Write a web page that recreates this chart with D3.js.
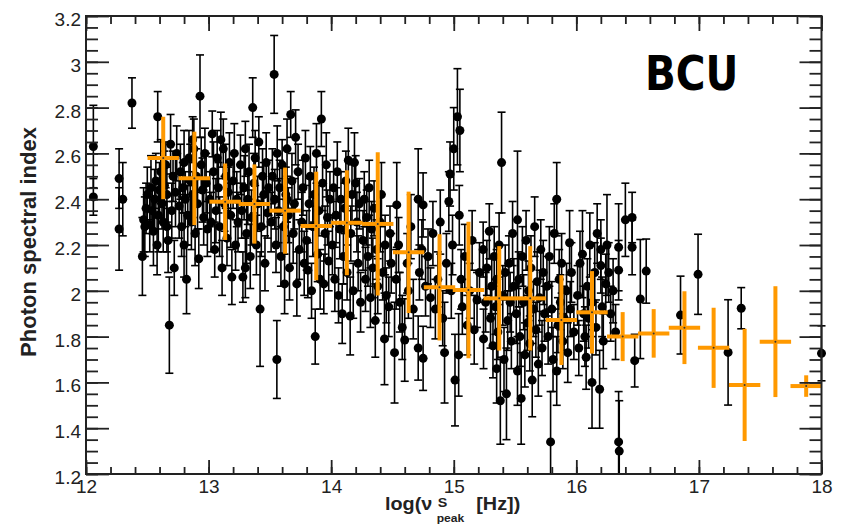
<!DOCTYPE html>
<html>
<head>
<meta charset="utf-8">
<script src="https://cdn.jsdelivr.net/npm/d3@7"></script>
<style>
body{margin:0;background:#fff;}
</style>
</head>
<body>
<script>
//DATA: log(nu_peak), photon index, error
var bcuPoints = [
[12.06,2.63,0.18],[12.06,2.41,0.08],[12.27,2.49,0.13],[12.30,2.40,0.16],[12.27,2.27,0.18],[12.375,2.82,0.11],[12.46,2.15,0.17],[12.48,2.28,0.13],[12.49,2.36,0.11],[12.50,2.42,0.12],[12.47,2.31,0.14],
[12.52,2.29,0.12],[12.53,2.45,0.14],[12.54,2.35,0.10],[12.55,2.26,0.15],[12.56,2.40,0.13],[12.57,2.48,0.12],[12.585,2.76,0.11],[12.59,2.33,0.16],[12.60,2.44,0.12],[12.61,2.52,0.14],[12.62,2.38,0.11],[12.63,2.30,0.13],[12.64,2.46,0.15],[12.65,2.55,0.10],[12.66,2.42,0.12],[12.67,2.22,0.14],[12.69,2.64,0.13],[12.68,1.85,0.21],[12.70,2.35,0.12],[12.71,2.50,0.11],[12.72,2.10,0.12],[12.73,2.43,0.15],[12.74,2.60,0.12],[12.58,2.20,0.13],[12.66,2.28,0.11],[12.62,2.48,0.10],
[12.76,2.37,0.14],[12.77,2.52,0.12],[12.78,2.28,0.13],[12.79,2.45,0.11],[12.80,2.56,0.14],[12.81,2.40,0.12],[12.82,2.05,0.15],[12.83,2.33,0.13],[12.84,2.58,0.12],[12.85,2.48,0.16],[12.86,2.30,0.12],[12.87,2.42,0.10],[12.88,2.62,0.13],[12.89,2.25,0.14],[12.90,2.50,0.12],[12.92,2.14,0.13],[12.93,2.85,0.18],[12.91,2.38,0.11],[12.94,2.55,0.12],[12.95,2.44,0.14],[12.96,2.32,0.12],[12.97,2.60,0.11],[12.98,2.47,0.13],[12.99,2.27,0.12],[12.80,2.20,0.14],[12.87,2.66,0.10],
[13.01,2.40,0.12],[13.03,2.685,0.10],[13.04,2.52,0.13],[13.05,2.18,0.12],[13.06,2.35,0.14],[13.07,2.58,0.12],[13.08,2.45,0.11],[13.09,2.28,0.13],[13.11,2.10,0.12],[13.12,2.62,0.13],[13.13,2.38,0.12],[13.14,2.50,0.14],[13.15,2.23,0.12],[13.16,2.43,0.11],[13.17,2.56,0.13],[13.19,2.06,0.12],[13.18,2.33,0.14],[13.20,2.48,0.12],[13.21,2.60,0.13],[13.22,2.20,0.11],[13.23,2.40,0.12],[13.24,2.30,0.13],[13.10,2.66,0.12],[13.02,2.30,0.13],
[13.26,2.55,0.13],[13.27,2.35,0.12],[13.28,2.06,0.11],[13.29,2.45,0.14],[13.30,2.62,0.12],[13.31,2.25,0.13],[13.32,2.40,0.11],[13.33,2.52,0.12],[13.34,2.15,0.14],[13.36,2.80,0.13],[13.35,2.32,0.12],[13.37,2.47,0.13],[13.38,2.58,0.12],[13.39,2.20,0.13],[13.40,2.38,0.12],[13.41,2.65,0.11],[13.42,1.92,0.25],[13.43,2.28,0.13],[13.44,2.50,0.12],[13.45,2.42,0.14],[13.46,2.12,0.12],[13.47,2.56,0.13],[13.48,2.34,0.11],[13.49,2.45,0.12],[13.30,2.10,0.13],
[13.51,2.30,0.13],[13.52,2.50,0.12],[13.535,2.945,0.17],[13.54,2.40,0.13],[13.55,2.20,0.12],[13.557,1.70,0.17],[13.56,2.60,0.12],[13.57,2.35,0.14],[13.58,2.45,0.12],[13.59,2.15,0.13],[13.60,2.55,0.11],[13.61,2.28,0.12],[13.62,2.03,0.13],[13.63,2.42,0.12],[13.64,2.62,0.13],[13.65,2.33,0.12],[13.66,2.10,0.14],[13.67,2.77,0.10],[13.68,2.48,0.12],[13.69,2.25,0.13],[13.70,2.38,0.11],[13.71,2.67,0.12],[13.72,2.03,0.14],[13.73,2.52,0.12],[13.74,2.18,0.13],[13.64,2.40,0.10],
[13.76,2.30,0.13],[13.77,2.45,0.12],[13.78,2.12,0.14],[13.79,2.58,0.12],[13.80,2.22,0.13],[13.81,2.09,0.12],[13.82,2.38,0.11],[13.83,2.50,0.13],[13.84,2.00,0.12],[13.85,2.28,0.13],[13.86,2.42,0.12],[13.87,1.80,0.12],[13.88,2.60,0.13],[13.89,2.16,0.12],[13.90,2.35,0.11],[13.91,2.05,0.13],[13.92,2.75,0.12],[13.93,2.47,0.12],[13.94,2.03,0.13],[13.95,2.25,0.12],[13.96,2.55,0.14],[13.97,2.32,0.12],[13.98,2.13,0.13],[13.99,2.40,0.12],
[14.01,2.20,0.13],[14.02,2.45,0.12],[14.03,2.05,0.14],[14.04,2.33,0.12],[14.05,2.52,0.13],[14.06,1.98,0.12],[14.07,2.27,0.13],[14.08,2.40,0.12],[14.09,1.90,0.13],[14.10,2.15,0.12],[14.11,2.36,0.11],[14.12,2.48,0.13],[14.13,2.08,0.12],[14.14,2.57,0.14],[14.155,1.89,0.17],[14.16,2.25,0.12],[14.17,2.42,0.13],[14.18,2.00,0.12],[14.19,2.56,0.13],[14.20,2.47,0.12],[14.21,2.30,0.13],[14.22,2.12,0.12],[14.23,2.38,0.11],[14.24,1.95,0.13],
[14.26,2.22,0.13],[14.27,2.40,0.12],[14.28,2.05,0.14],[14.29,2.32,0.12],[14.30,2.15,0.13],[14.31,2.45,0.12],[14.32,1.97,0.13],[14.33,2.27,0.12],[14.34,2.10,0.13],[14.36,1.87,0.16],[14.35,2.36,0.12],[14.37,2.18,0.13],[14.38,2.02,0.12],[14.40,2.30,0.13],[14.41,2.42,0.14],[14.42,2.08,0.12],[14.435,1.79,0.20],[14.44,2.20,0.13],[14.45,1.98,0.12],[14.47,1.93,0.13],[14.48,2.25,0.12],[14.49,2.12,0.13],
[14.517,1.73,0.22],[14.53,2.05,0.13],[14.535,2.375,0.185],[14.55,2.20,0.12],[14.56,1.95,0.13],[14.58,1.84,0.14],[14.60,1.785,0.18],[14.62,2.12,0.13],[14.63,2.00,0.12],[14.65,2.28,0.14],[14.67,1.92,0.13],[14.71,1.75,0.14],[14.71,2.40,0.22],[14.72,2.08,0.12],[14.74,2.18,0.13],
[14.75,2.375,0.14],[14.75,1.705,0.14],[14.77,2.02,0.13],[14.79,2.15,0.12],[14.81,1.97,0.13],[14.83,2.25,0.14],[14.85,1.92,0.13],[14.87,2.05,0.12],[14.89,2.30,0.14],[14.91,1.88,0.12],[14.925,1.73,0.22],[14.94,2.12,0.13],[14.96,2.39,0.13],[14.97,2.51,0.14],[14.98,2.00,0.12],[14.99,2.20,0.13],
[15.00,2.62,0.18],[15.01,1.61,0.20],[15.03,2.76,0.21],[15.04,1.72,0.18],[15.045,2.33,0.13],[15.05,2.70,0.18],[15.06,2.05,0.13],[15.07,1.93,0.12],[15.09,2.15,0.14],[15.11,1.85,0.13],[15.13,2.00,0.12],[15.15,2.22,0.13],[15.167,1.83,0.15],[15.19,1.96,0.12],[15.21,2.08,0.13],[15.243,1.79,0.13],[15.24,2.18,0.12],
[15.26,1.95,0.13],[15.27,2.10,0.12],[15.29,2.26,0.12],[15.30,1.88,0.13],[15.31,2.02,0.12],[15.32,1.76,0.14],[15.33,2.15,0.13],[15.34,1.93,0.12],[15.35,2.05,0.13],[15.36,1.82,0.12],[15.37,2.20,0.14],[15.38,1.52,0.19],[15.39,2.56,0.22],[15.40,1.98,0.13],[15.41,1.70,0.14],[15.42,2.08,0.12],[15.43,1.55,0.20],[15.44,1.87,0.13],[15.45,2.12,0.12],[15.46,1.95,0.13],[15.47,1.78,0.12],[15.48,2.25,0.14],[15.49,2.02,0.12],[15.35,1.66,0.15],
[15.51,1.90,0.13],[15.52,2.31,0.30],[15.52,1.65,0.15],[15.53,2.05,0.12],[15.54,1.80,0.13],[15.55,1.53,0.20],[15.56,2.15,0.13],[15.57,1.95,0.12],[15.58,1.72,0.14],[15.59,2.22,0.13],[15.60,1.86,0.12],[15.61,2.00,0.13],[15.62,1.77,0.12],[15.64,1.61,0.16],[15.63,2.10,0.14],[15.65,1.92,0.12],[15.66,2.28,0.13],[15.67,1.83,0.12],[15.68,2.04,0.13],[15.69,1.68,0.14],[15.70,1.97,0.12],[15.71,2.18,0.13],[15.72,1.75,0.12],[15.73,2.08,0.14],[15.74,1.90,0.12],
[15.76,2.02,0.13],[15.77,1.80,0.12],[15.79,1.34,0.22],[15.78,2.15,0.13],[15.80,1.92,0.12],[15.81,1.70,0.14],[15.82,2.25,0.13],[15.84,1.65,0.15],[15.84,2.40,0.16],[15.85,1.85,0.12],[15.86,2.05,0.13],[15.87,1.95,0.12],[15.88,2.12,0.13],[15.89,1.78,0.12],[15.90,1.88,0.14],[15.92,2.00,0.12],[15.93,1.73,0.13],[15.945,2.21,0.14],[15.95,1.92,0.12],[15.96,2.08,0.13],[15.98,1.82,0.12],
[16.01,1.98,0.13],[16.02,1.75,0.12],[16.03,2.12,0.14],[16.05,2.16,0.19],[16.06,1.90,0.12],[16.07,1.80,0.13],[16.08,1.71,0.14],[16.09,2.02,0.12],[16.10,1.88,0.13],[16.11,2.20,0.14],[16.128,1.60,0.20],[16.13,1.95,0.12],[16.15,2.08,0.13],[16.16,1.84,0.12],[16.17,2.25,0.13],[16.19,1.57,0.17],[16.20,2.18,0.13],[16.20,2.11,0.12],[16.21,1.93,0.13],[16.22,1.78,0.12],[16.24,2.03,0.13],[16.25,2.20,0.22],
[16.264,2.08,0.13],[16.28,1.90,0.12],[16.30,2.00,0.14],[16.32,1.82,0.12],[16.345,2.19,0.19],[16.345,2.09,0.13],[16.345,1.34,0.22],[16.35,1.30,0.22],[16.40,2.31,0.16],[16.455,2.32,0.11],[16.455,2.19,0.12],[16.476,1.695,0.115],
[16.522,1.964,0.26],[16.57,2.086,0.14],[16.85,1.894,0.17],[16.993,2.072,0.175],[17.238,1.731,0.23],[17.345,1.924,0.09],[18.0,1.727,0.12]
];

//BINNED AVERAGES (orange)
var binCenter = [12.63,12.884,13.135,13.374,13.624,13.878,14.128,14.38,14.632,14.884,15.12,15.371,15.624,15.878,16.128,16.378,16.631,16.882,17.12,17.373,17.624,17.875];
var binIndex = [2.58,2.491,2.389,2.379,2.35,2.283,2.297,2.292,2.168,2.015,2.003,1.967,1.967,1.872,1.906,1.80,1.814,1.839,1.751,1.589,1.778,1.584];
var binYErr = [0.18,0.204,0.167,0.173,0.188,0.237,0.229,0.313,0.265,0.232,0.298,0.228,0.228,0.196,0.18,0.107,0.106,0.159,0.175,0.245,0.242,0.047];
var binXErr = [0.128,0.128,0.128,0.128,0.128,0.128,0.128,0.128,0.128,0.128,0.128,0.128,0.128,0.128,0.128,0.128,0.128,0.128,0.128,0.128,0.128,0.128];

var xTicks = [12,13,14,15,16,17,18];
var yTicks = [1.2,1.4,1.6,1.8,2,2.2,2.4,2.6,2.8,3,3.2];

//SVG STUFF:
var width = 842, height = 524;
var mLeft = 86, mRight = 821.5, mTop = 16, mBottom = 474;
var svg = d3.select("body").append("svg").attr("width", width).attr("height", height)
   .style("font-family","'Liberation Sans', Arial, sans-serif");

var x = d3.scaleLinear().domain([12,18]).range([mLeft,mRight]);
var y = d3.scaleLinear().domain([1.2,3.2]).range([mBottom,mTop]);

svg.append("defs").append("clipPath").attr("id","plotclip")
   .append("rect").attr("x",0).attr("y",mTop).attr("width",width).attr("height",mBottom-mTop);

//BLACK POINTS WITH ERROR BARS
var pts = svg.append("g").attr("clip-path","url(#plotclip)");
pts.selectAll("line.err").data(bcuPoints).enter().append("line")
   .attr("class","err")
   .attr("x1",d => x(d[0])).attr("x2",d => x(d[0]))
   .attr("y1",d => y(d[1]+d[2])).attr("y2",d => y(d[1]-d[2]))
   .attr("stroke","#000").attr("stroke-width",1.6);
pts.selectAll("line.capt").data(bcuPoints).enter().append("line")
   .attr("class","capt")
   .attr("x1",d => x(d[0])-4).attr("x2",d => x(d[0])+4)
   .attr("y1",d => y(d[1]+d[2])).attr("y2",d => y(d[1]+d[2]))
   .attr("stroke","#000").attr("stroke-width",1.6);
pts.selectAll("line.capb").data(bcuPoints).enter().append("line")
   .attr("class","capb")
   .attr("x1",d => x(d[0])-4).attr("x2",d => x(d[0])+4)
   .attr("y1",d => y(d[1]-d[2])).attr("y2",d => y(d[1]-d[2]))
   .attr("stroke","#000").attr("stroke-width",1.6);
pts.selectAll("circle.pt").data(bcuPoints).enter().append("circle")
   .attr("class","pt")
   .attr("cx",d => x(d[0])).attr("cy",d => y(d[1]))
   .attr("r",4.5).attr("fill","#000");

//ORANGE CROSSES
var bins = binCenter.map((c,i) => ({x:c, y:binIndex[i], ey:binYErr[i], ex:binXErr[i]}));
var orange = "#ff9900";
var og = svg.append("g");
og.selectAll("line.ov").data(bins).enter().append("line")
   .attr("x1",d => x(d.x)).attr("x2",d => x(d.x))
   .attr("y1",d => y(d.y+d.ey)).attr("y2",d => y(d.y-d.ey))
   .attr("stroke",orange).attr("stroke-width",4);
og.selectAll("line.oh").data(bins).enter().append("line")
   .attr("x1",d => x(d.x-d.ex)).attr("x2",d => x(d.x+d.ex))
   .attr("y1",d => y(d.y)).attr("y2",d => y(d.y))
   .attr("stroke",orange).attr("stroke-width",4);
og.selectAll("circle").data(bins).enter().append("circle")
   .attr("cx",d => x(d.x)).attr("cy",d => y(d.y)).attr("r",1).attr("fill","#333");

//AXES
var minorX = d3.range(12,18.001,0.2);
var minorY = d3.range(1.2,3.2001,0.05);
var tickCol = "#222";
function styleAxis(g){
   g.select(".domain").remove();
   g.selectAll(".tick line").attr("stroke",tickCol).attr("stroke-width",1.8);
}
svg.append("g").attr("transform","translate("+mLeft+",0)")
   .call(d3.axisLeft(y).tickValues(minorY).tickSize(-12).tickFormat("")).call(styleAxis);
svg.append("g").attr("transform","translate("+mLeft+",0)")
   .call(d3.axisLeft(y).tickValues(yTicks).tickSize(-23).tickPadding(5).tickFormat(d3.format("~g")))
   .call(styleAxis)
   .selectAll("text").attr("font-size",19).attr("fill","#222").attr("dy","0.5em");
svg.append("g").attr("transform","translate("+mRight+",0)")
   .call(d3.axisRight(y).tickValues(minorY).tickSize(-12).tickFormat("")).call(styleAxis);
svg.append("g").attr("transform","translate("+mRight+",0)")
   .call(d3.axisRight(y).tickValues(yTicks).tickSize(-22).tickFormat("")).call(styleAxis);
svg.append("g").attr("transform","translate(0,"+mBottom+")")
   .call(d3.axisBottom(x).tickValues(minorX).tickSize(-7).tickFormat("")).call(styleAxis);
svg.append("g").attr("transform","translate(0,"+mBottom+")")
   .call(d3.axisBottom(x).tickValues(xTicks).tickSize(-14).tickPadding(6).tickFormat(d3.format("d")))
   .call(styleAxis)
   .selectAll("text").attr("font-size",19).attr("fill","#222");
svg.append("g").attr("transform","translate(0,"+mTop+")")
   .call(d3.axisTop(x).tickValues(minorX).tickSize(-8).tickFormat("")).call(styleAxis);
svg.append("g").attr("transform","translate(0,"+mTop+")")
   .call(d3.axisTop(x).tickValues(xTicks).tickSize(-15).tickFormat("")).call(styleAxis);

//FRAME
svg.append("rect").attr("x",mLeft).attr("y",mTop).attr("width",mRight-mLeft).attr("height",mBottom-mTop)
   .attr("fill","none").attr("stroke",tickCol).attr("stroke-width",2);

//TITLES
svg.append("text").text("Photon spectral index")
   .attr("transform","translate(36,242) rotate(-90)")
   .attr("text-anchor","middle").attr("font-size",22).attr("font-weight","bold").attr("fill","#222");

// x title is wide and short in the original, so stretch it sideways
var xt = svg.append("g").attr("transform","translate(385,510) scale(1.1,1)")
   .attr("font-weight","bold").attr("fill","#222");
xt.append("text").text("log(\u03bd").attr("x",0).attr("y",0).attr("font-size",18);
xt.append("text").text("S").attr("x",48).attr("y",-3).attr("font-size",13);
xt.append("text").text("peak").attr("x",47).attr("y",12).attr("font-size",11);
xt.append("text").text("[Hz])").attr("x",83).attr("y",0).attr("font-size",18);

svg.append("text").text("BCU").attr("transform","translate(645,90) scale(0.92,1.1)")
   .attr("font-family","'Comic Sans MS','DejaVu Sans',sans-serif")
   .attr("font-size",44).attr("font-weight","bold").attr("fill","#000");
</script>
</body>
</html>
